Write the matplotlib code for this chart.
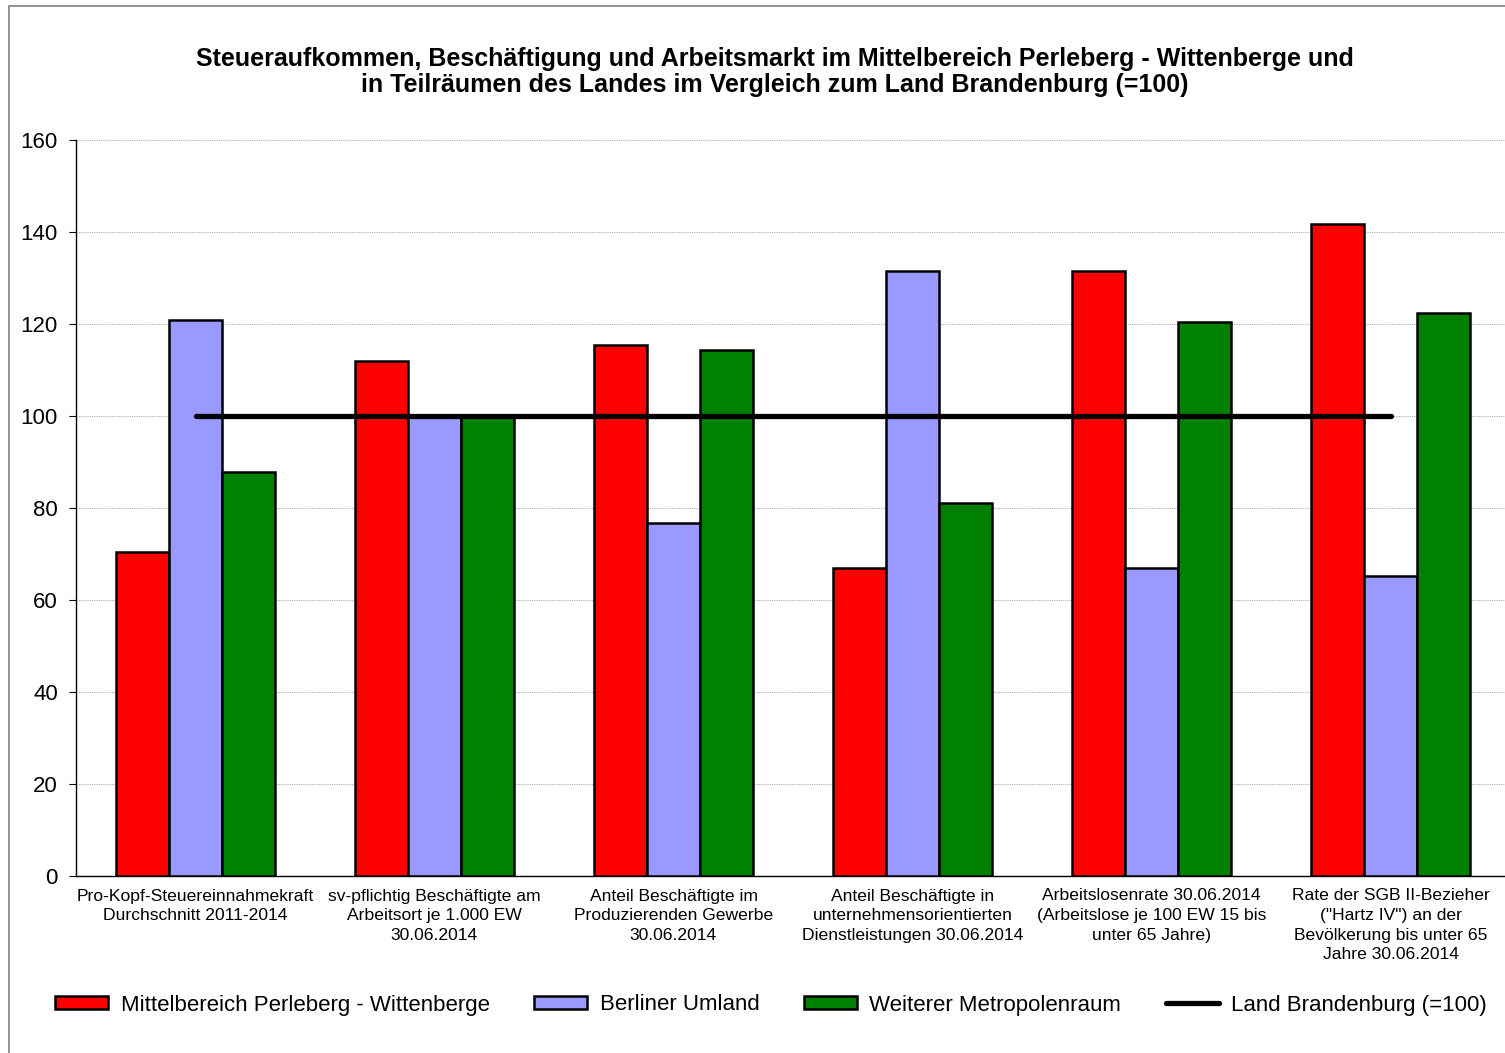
import matplotlib
matplotlib.use("Agg")
from matplotlib import pyplot as plt
from matplotlib.patches import Rectangle
import numpy as np

plt.rcParams['font.family'] = ['Liberation Sans', 'DejaVu Sans']

categories = [
    "Pro-Kopf-Steuereinnahmekraft\nDurchschnitt 2011-2014",
    "sv-pflichtig Beschäftigte am\nArbeitsort je 1.000 EW\n30.06.2014",
    "Anteil Beschäftigte im\nProduzierenden Gewerbe\n30.06.2014",
    "Anteil Beschäftigte in\nunternehmensorientierten\nDienstleistungen 30.06.2014",
    "Arbeitslosenrate 30.06.2014\n(Arbeitslose je 100 EW 15 bis\nunter 65 Jahre)",
    "Rate der SGB II-Bezieher\n(\"Hartz IV\") an der\nBevölkerung bis unter 65\nJahre 30.06.2014",
]
perleberg = [70.4, 112, 115.4, 67, 131.5, 141.7]
umland = [120.9, 100, 76.7, 131.5, 67, 65.2]
metropolen = [87.8, 100, 114.3, 81, 120.4, 122.4]
land = [100, 100, 100, 100, 100, 100]

series = [
    ("Mittelbereich Perleberg - Wittenberge", perleberg, "#ff0000"),
    ("Berliner Umland", umland, "#9999ff"),
    ("Weiterer Metropolenraum", metropolen, "#008000"),
]

fig = plt.figure(figsize=(15.05, 10.53), dpi=100)
W, H = 1505, 1053
ax = fig.add_axes([76 / W, 1 - 876 / H, 1434 / W, 736 / H])

x = np.arange(len(categories))
w = 0.222
bars = []
for i, (name, vals, col) in enumerate(series):
    b = ax.bar(x + (i - 1) * w, vals, w, color=col, edgecolor="black",
               linewidth=1.8, label=name, zorder=3)
    bars.append(b)
line, = ax.plot(x, land, color="black", linewidth=3.8, solid_capstyle="round",
                label="Land Brandenburg (=100)", zorder=4)

ax.set_xlim(-0.5, len(categories) - 0.5)
ax.set_ylim(0, 160)
ax.set_yticks(range(0, 161, 20))
ax.set_xticks(x)
ax.set_xticklabels(categories, fontsize=12.6, linespacing=1.38)
ax.tick_params(axis="x", length=0, pad=9)
ax.tick_params(axis="y", labelsize=16, length=5, direction="out", pad=8)
ax.grid(axis="y", color="#b0b0b0", linestyle=(0, (1, 1)), linewidth=0.8, zorder=0)
for s in ["top", "right"]:
    ax.spines[s].set_visible(False)
ax.spines["left"].set_linewidth(1)
ax.spines["bottom"].set_linewidth(1)

fig.text(0.515, 1 - 72 / H,
         "Steueraufkommen, Beschäftigung und Arbeitsmarkt im Mittelbereich Perleberg - Wittenberge und\n"
         "in Teilräumen des Landes im Vergleich zum Land Brandenburg (=100)",
         ha="center", va="center", fontsize=18, fontweight="bold", linespacing=1.15)

handles = bars + [line]
labels = [s[0] for s in series] + ["Land Brandenburg (=100)"]
fig.legend(handles, labels, loc="center", ncol=4, frameon=False,
           bbox_to_anchor=(771 / W, 1 - 1005 / H), fontsize=16,
           handlelength=2.4, handleheight=0.55, columnspacing=2.0, handletextpad=0.55)

fig.patches.append(Rectangle((9 / W, -0.05), 1.1, 1 - 6 / H + 0.05,
                             transform=fig.transFigure, fill=False,
                             edgecolor="#808080", linewidth=1.2))

fig.savefig("out.png", dpi=100)
